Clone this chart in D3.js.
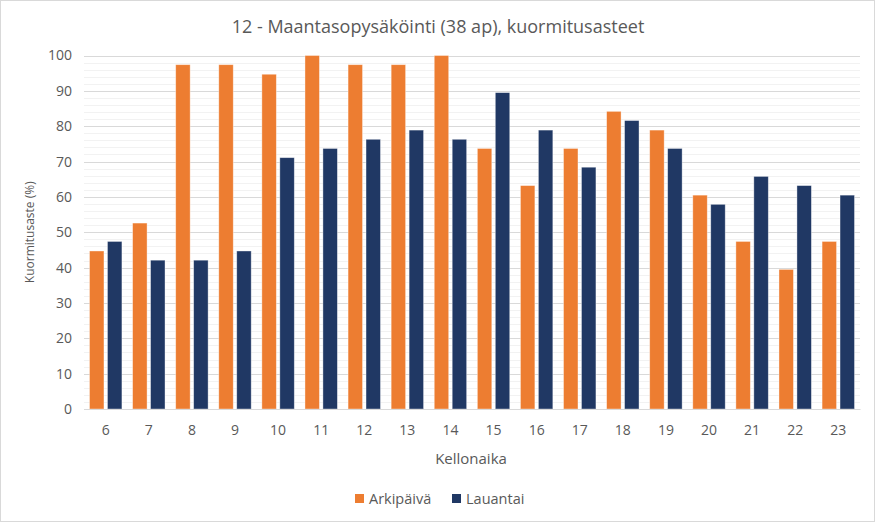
<!DOCTYPE html>
<html><head><meta charset="utf-8">
<script src="https://cdn.jsdelivr.net/npm/d3@7"></script>
<style>body{margin:0;background:#fff}svg{display:block}text{font-family:"Open Sans","Noto Sans",sans-serif;fill:#595959}</style>
</head><body>
<script>
const categories = ["6","7","8","9","10","11","12","13","14","15","16","17","18","19","20","21","22","23"];
const arkipaiva = [44.7,52.6,97.4,97.4,94.7,100,97.4,97.4,100,73.7,63.2,73.7,84.2,78.9,60.5,47.4,39.5,47.4];
const lauantai  = [47.4,42.1,42.1,44.7,71.1,73.7,76.3,78.9,76.3,89.5,78.9,68.4,81.6,73.7,57.9,65.8,63.2,60.5];
const seriesNames = ["Arkipäivä","Lauantai"];
const colors = ["#ED7D31","#203864"];
const yTicks = [0,10,20,30,40,50,60,70,80,90,100];

const W=876,H=523;
const m={l:84,r:16,t:55.5,b:114};
const svg=d3.select("body").append("svg").attr("width",W).attr("height",H);
svg.append("rect").attr("x",0.5).attr("y",0.5).attr("width",W-2).attr("height",H-2).attr("fill","#fff").attr("stroke","#d9d9d9");

const x=d3.scaleBand().domain(categories).range([m.l,W-m.r]).paddingInner(0.248).paddingOuter(0.128);
const xs=d3.scaleBand().domain(seriesNames).range([0,x.bandwidth()]).paddingInner(0.195);
const y=d3.scaleLinear().domain([0,100]).range([H-m.b,m.t]);

// minor grid
const g=svg.append("g");
g.selectAll("line.minor").data(d3.range(0,101,2).filter(v=>v%10!==0)).join("line")
 .attr("x1",m.l).attr("x2",W-m.r).attr("y1",d=>Math.round(y(d))+0.5).attr("y2",d=>Math.round(y(d))+0.5)
 .attr("stroke","#f2f2f2");
g.selectAll("line.major").data(yTicks).join("line")
 .attr("x1",m.l).attr("x2",W-m.r).attr("y1",d=>Math.round(y(d))+0.5).attr("y2",d=>Math.round(y(d))+0.5)
 .attr("stroke","#d9d9d9");

// bars
const data=categories.map((c,i)=>({c,v:[arkipaiva[i],lauantai[i]]}));
const grp=svg.append("g").selectAll("g").data(data).join("g").attr("transform",d=>`translate(${x(d.c)},0)`);
grp.selectAll("rect").data(d=>d.v.map((v,j)=>({v,s:seriesNames[j],j}))).join("rect")
 .attr("x",d=>xs(d.s)).attr("width",xs.bandwidth())
 .attr("y",d=>y(d.v)).attr("height",d=>y(0)-y(d.v))
 .attr("fill",d=>colors[d.j]).attr("stroke","#ffffff").attr("stroke-opacity",0.5).attr("stroke-width",0.75);

// axes
const ya=svg.append("g").attr("transform",`translate(${m.l},0)`).call(d3.axisLeft(y).tickValues(yTicks).tickSize(0).tickPadding(12));
ya.select(".domain").remove();
ya.selectAll("text").attr("font-size",14).style("font-family","'Open Sans',sans-serif").attr("fill","#595959");
const xa=svg.append("g").attr("transform",`translate(0,${y(0)})`).call(d3.axisBottom(x).tickSize(0).tickPadding(16));
xa.select(".domain").attr("stroke","#d9d9d9");
xa.selectAll("text").attr("font-size",14).style("font-family","'Open Sans',sans-serif").attr("fill","#595959");

svg.append("text").attr("x",471).attr("y",464).attr("text-anchor","middle").attr("font-size",15).text("Kellonaika");
svg.append("text").attr("transform",`translate(34,${(y(0)+y(100))/2}) rotate(-90)`).attr("text-anchor","middle").attr("font-size",12).text("Kuormitusaste (%)");
svg.append("text").attr("x",438).attr("y",33).attr("text-anchor","middle").attr("font-size",18).text("12 - Maantasopysäköinti (38 ap), kuormitusasteet");

// legend
const leg=svg.append("g");
const lx=[355,452];
seriesNames.forEach((s,i)=>{
  leg.append("rect").attr("x",lx[i]).attr("y",494).attr("width",9).attr("height",9).attr("fill",colors[i]);
  leg.append("text").attr("x",lx[i]+14).attr("y",503.5).attr("font-size",14.5).text(s);
});
</script>
</body></html>
